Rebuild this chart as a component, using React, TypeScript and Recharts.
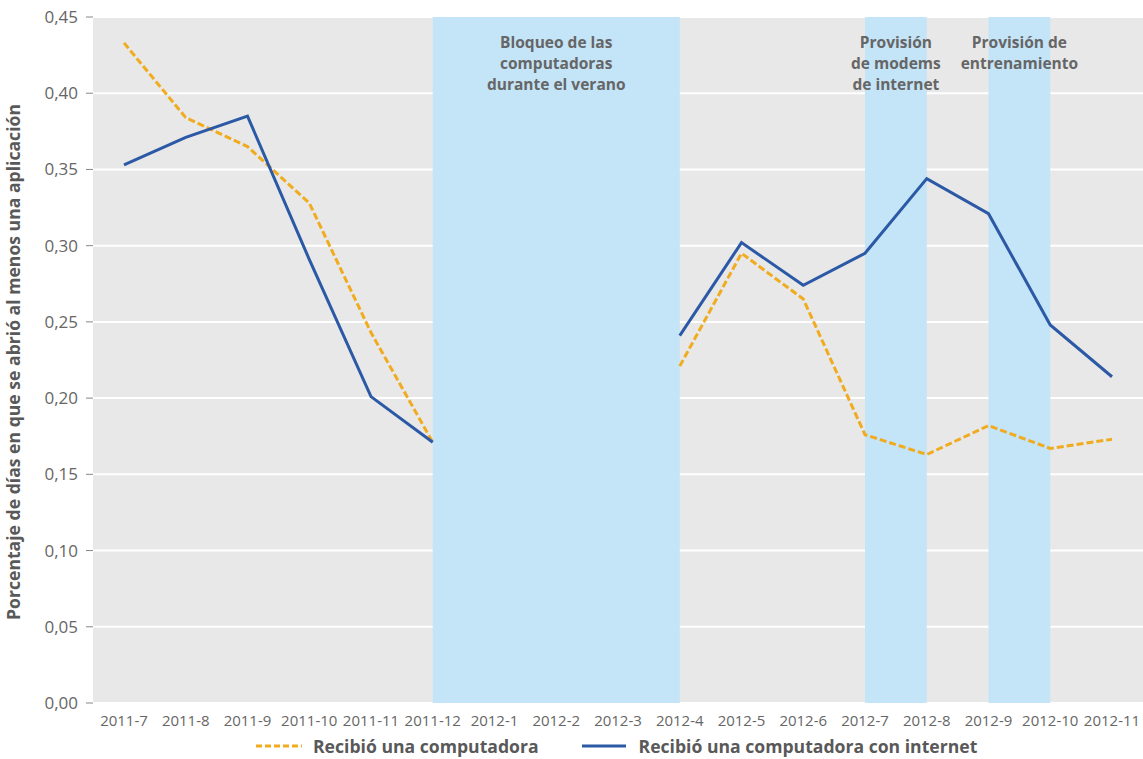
import {
  LineChart, Line, XAxis, YAxis, CartesianGrid, ReferenceArea, Legend,
} from 'recharts';

const MONTHS = [
  '2011-7', '2011-8', '2011-9', '2011-10', '2011-11', '2011-12',
  '2012-1', '2012-2', '2012-3', '2012-4', '2012-5', '2012-6',
  '2012-7', '2012-8', '2012-9', '2012-10', '2012-11',
];

// null = months hidden during the summer block
const COMPUTADORA = [
  0.433, 0.384, 0.365, 0.328, 0.243, 0.171,
  null, null, null, 0.221, 0.295, 0.265,
  0.176, 0.163, 0.182, 0.167, 0.173,
];

const CON_INTERNET = [
  0.353, 0.371, 0.385, 0.291, 0.201, 0.171,
  null, null, null, 0.241, 0.302, 0.274,
  0.295, 0.344, 0.321, 0.248, 0.214,
];

const Y_TICKS = [0, 0.05, 0.1, 0.15, 0.2, 0.25, 0.3, 0.35, 0.4, 0.45];

const PERIODS = [
  { from: '2011-12', to: '2012-4', lines: ['Bloqueo de las', 'computadoras', 'durante el verano'] },
  { from: '2012-7', to: '2012-8', lines: ['Provisión', 'de modems', 'de internet'] },
  { from: '2012-9', to: '2012-10', lines: ['Provisión de', 'entrenamiento'] },
];

const ORANGE = '#f0ab1f';
const BLUE = '#2b59a6';
const SHADE = '#c4e4f7';
const TEXT = '#666666';
const FONT = '"Open Sans", sans-serif';

const data = MONTHS.map((m, i) => ({
  month: m,
  computadora: COMPUTADORA[i],
  internet: CON_INTERNET[i],
}));

const fmt = (v: number) => v.toFixed(2).replace('.', ',');

const makeAreaLabel = (lines: string[]) => (props: any) => {
  const { x, width } = props.viewBox;
  const cx = x + width / 2;
  return (
    <g>
      {lines.map((l, i) => (
        <text
          key={i}
          x={cx}
          y={48 + i * 21.2}
          textAnchor="middle"
          fill={TEXT}
          fontSize={15.5}
          fontWeight={700}
          fontFamily={FONT}
        >
          {l}
        </text>
      ))}
    </g>
  );
};

const LegendContent = () => (
  <div style={{ display: 'flex', fontFamily: FONT, fontWeight: 700, fontSize: 17.6, color: '#595959', lineHeight: '22px' }}>
    <span style={{ display: 'flex', alignItems: 'center', marginLeft: 256 }}>
      <svg width={46} height={6} style={{ marginRight: 11 }}>
        <line x1={0} y1={3} x2={46} y2={3} stroke={ORANGE} strokeWidth={3} strokeDasharray="6 3" />
      </svg>
      Recibió una computadora
    </span>
    <span style={{ display: 'flex', alignItems: 'center', marginLeft: 43 }}>
      <svg width={44} height={6} style={{ marginRight: 13 }}>
        <line x1={0} y1={3} x2={44} y2={3} stroke={BLUE} strokeWidth={3} />
      </svg>
      Recibió una computadora con internet
    </span>
  </div>
);

const YLabel = () => (
  <text
    x={13}
    y={362}
    transform="rotate(-90 13 362)"
    textAnchor="middle"
    dominantBaseline="central"
    fill="#595959"
    fontSize={17.6}
    fontWeight={700}
    fontFamily={FONT}
  >
    Porcentaje de días en que se abrió al menos una aplicación
  </text>
);

export default function App() {
  return (
    <div style={{ position: 'absolute', left: 0, top: 0, width: 1143, height: 759, background: '#fff', overflow: 'hidden' }}>
      <LineChart width={1143} height={759} data={data} margin={{ top: 17, right: 0, bottom: 0, left: 0 }}>
        <CartesianGrid vertical={false} stroke="#ffffff" strokeWidth={2} fill="#e8e8e8" />
        <XAxis
          dataKey="month"
          padding={{ left: 31, right: 31 }}
          axisLine={false}
          tickLine={false}
          interval={0}
          height={32}
          tickMargin={6}
          tick={{ fill: TEXT, fontSize: 15, fontFamily: FONT }}
        />
        <YAxis
          width={93}
          domain={[0, 0.45]}
          ticks={Y_TICKS}
          tickFormatter={fmt}
          axisLine={false}
          tickLine={{ stroke: '#888' }}
          tickSize={7}
          tickMargin={8}
          tick={{ fill: TEXT, fontSize: 17, fontFamily: FONT }}
          label={<YLabel />}
        />
        {PERIODS.map((p) => (
          <ReferenceArea
            key={p.from}
            x1={p.from}
            x2={p.to}
            fill={SHADE}
            fillOpacity={1}
            stroke="none"
            label={makeAreaLabel(p.lines)}
          />
        ))}
        <Line
          dataKey="computadora"
          stroke={ORANGE}
          strokeWidth={3}
          strokeDasharray="7 3"
          dot={false}
          isAnimationActive={false}
        />
        <Line
          dataKey="internet"
          stroke={BLUE}
          strokeWidth={3}
          dot={false}
          isAnimationActive={false}
        />
        <Legend
          verticalAlign="bottom"
          content={<LegendContent />}
          wrapperStyle={{ left: 0, bottom: 0, width: 1143, height: 24 }}
        />
      </LineChart>
    </div>
  );
}
